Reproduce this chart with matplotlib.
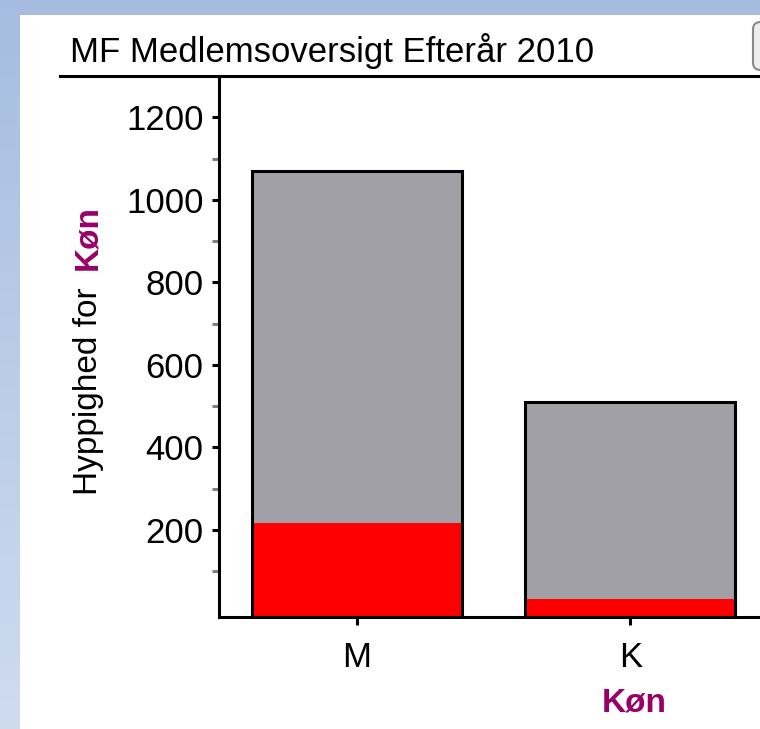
import numpy as np
import matplotlib
matplotlib.use("Agg")
import matplotlib.pyplot as plt
from matplotlib.patches import Rectangle, FancyBboxPatch
from matplotlib.lines import Line2D

# data
categories = ["M", "K"]
totals = [1070, 510]
subgroup = [218, 32]

title = "MF Medlemsoversigt Efterår 2010"
ylabel_text = "Hyppighed for"
var_name = "Køn"

W, H = 760, 729
DPI = 100
plt.rcParams['font.family'] = ['Liberation Sans', 'DejaVu Sans']

def fx(px):
    return px / W

def fy(py):
    return 1 - py / H

fig = plt.figure(figsize=(W / DPI, H / DPI), dpi=DPI)

# window background: blue gradient frame, white panel
bg = fig.add_axes([0, 0, 1, 1], zorder=-10)
grad = np.linspace(0, 1, 256).reshape(-1, 1)
top_c = np.array([0.65, 0.74, 0.88])
bot_c = np.array([0.81, 0.86, 0.94])
img = top_c + grad[..., None] * (bot_c - top_c)
bg.imshow(img, aspect="auto", extent=[0, 1, 0, 1])
bg.set_xlim(0, 1)
bg.set_ylim(0, 1)
bg.axis("off")
fig.patches.append(Rectangle((fx(20), 0), 1, fy(15), transform=fig.transFigure,
                             facecolor="white", edgecolor="none", zorder=-5))

# title + separator line
fig.text(fx(70), fy(62), title, fontsize=25, va="baseline", ha="left")
fig.lines.append(Line2D([fx(60), 1], [fy(76), fy(76)], transform=fig.transFigure,
                        color="black", lw=2.2))
fig.patches.append(FancyBboxPatch((fx(753), fy(70)), fx(40), fy(22) - fy(70),
                                  boxstyle="round,pad=0,rounding_size=0.01",
                                  transform=fig.transFigure, facecolor="#eeeeee",
                                  edgecolor="#8a8a8a", lw=1.5))

# main axes (runs off the right edge like the screenshot)
ax = fig.add_axes([fx(219), fy(617), fx(W - 219) + 0.02, fy(77) - fy(617)])
ax.set_facecolor("none")
y_lo, y_hi = -11, 1298
x = np.arange(len(categories))
bw = 0.768
ax.bar(x, np.array(totals) - y_lo, bottom=y_lo, width=bw, color="#a1a0a6", edgecolor="none")
ax.bar(x, np.array(subgroup) - y_lo, bottom=y_lo, width=bw, color="#ff0000", edgecolor="none")
ax.bar(x, np.array(totals) - y_lo, bottom=y_lo, width=bw, fill=False, edgecolor="black", lw=2.2)

ax.set_xlim(-0.504, 1.53)
ax.set_ylim(y_lo, y_hi)
ax.set_xticks(x)
ax.set_xticklabels(categories)
ax.set_yticks(np.arange(200, 1201, 200))
ax.set_yticks(np.arange(100, 1300, 200), minor=True)
ax.tick_params(axis="y", which="major", length=5, width=2.2, color="black",
               labelsize=25, pad=6)
ax.tick_params(axis="y", which="minor", length=5, width=2.2, color="#808080")
ax.tick_params(axis="x", length=6, width=2.2, labelsize=25, pad=11)
for s in ["top", "right"]:
    ax.spines[s].set_visible(False)
for s in ["left", "bottom"]:
    ax.spines[s].set_linewidth(2.2)

# y label in two colours
fig.text(fx(88), fy(495), ylabel_text, rotation=90, fontsize=24, ha="center", va="bottom")
fig.text(fx(88), fy(205), var_name, rotation=90, fontsize=24, ha="center", va="top",
         color="#990066", fontweight="bold")
# x label
fig.text(fx(634), fy(703), var_name, fontsize=24, ha="center", va="center",
         color="#990066", fontweight="bold")

fig.savefig("out.png", dpi=DPI)
